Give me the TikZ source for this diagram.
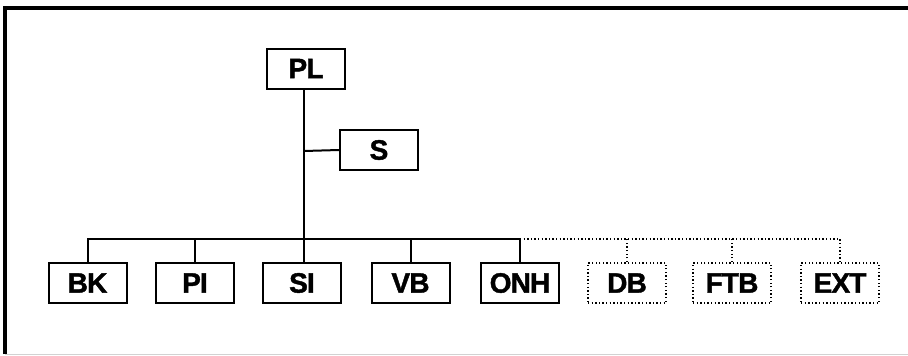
\documentclass[tikz,border=0pt]{standalone}
\usepackage{fontspec}
\setmainfont{Liberation Sans}
\newfontfamily\heavyfont[LetterSpace=-3, BoldFeatures={FakeBold=1.5}]{Liberation Sans}
\begin{document}
\begin{tikzpicture}[x=1pt,y=-1pt,
  box/.style={draw, line width=2pt, minimum width=78pt, minimum height=40pt, inner sep=0pt,
    font=\heavyfont\bfseries\fontsize{28}{28}\selectfont},
  dbox/.style={box, line width=2pt, dash pattern=on 1.3pt off 2.3pt},
  conn/.style={line width=2pt},
  dconn/.style={line width=2pt, dash pattern=on 1.3pt off 2.3pt},
  framel/.style={line width=3.2pt}]
\useasboundingbox (0,0) rectangle (908,356);
% frame
\coordinate (fbl) at (5,354);
\coordinate (ftl) at (5,8);
\coordinate (ftr) at (908,8);
\coordinate (fbr) at (908,354);
\draw[framel] (fbl) -- (ftl) -- (ftr);
\draw[gray!35, line width=1pt] (fbl) -- (fbr);
% nodes
\node[box] (PL) at (306,68.5) {PL};
\node[box] (S) at (379,150) {S};
\node[box] (BK) at (87.5,283) {BK};
\node[box] (PI) at (195,283) {PI};
\node[box] (SI) at (302,283) {SI};
\node[box] (VB) at (410.5,283) {VB};
\node[box] (ONH) at (520,283) {ONH};
\node[dbox] (DB) at (627,283) {DB};
\node[dbox] (FTB) at (732,283) {FTB};
\node[dbox] (EXT) at (840,283) {EXT};
% connectors
\coordinate (t) at (304,151);
\coordinate (bus) at (304,239);
\draw[conn] (PL.south -| t) -- (SI.north -| t);
\draw[conn] (t) -- (S.west);
\draw[conn] (BK.north) -- (BK.north |- bus) -- (ONH.north |- bus) -- (ONH.north);
\draw[conn] (PI.north) -- (PI.north |- bus);
\draw[conn] (VB.north) -- (VB.north |- bus);
\draw[dconn] (ONH.north |- bus) -- (EXT.north |- bus) -- (EXT.north);
\draw[dconn] (DB.north) -- (DB.north |- bus);
\draw[dconn] (FTB.north) -- (FTB.north |- bus);
\end{tikzpicture}
\end{document}
